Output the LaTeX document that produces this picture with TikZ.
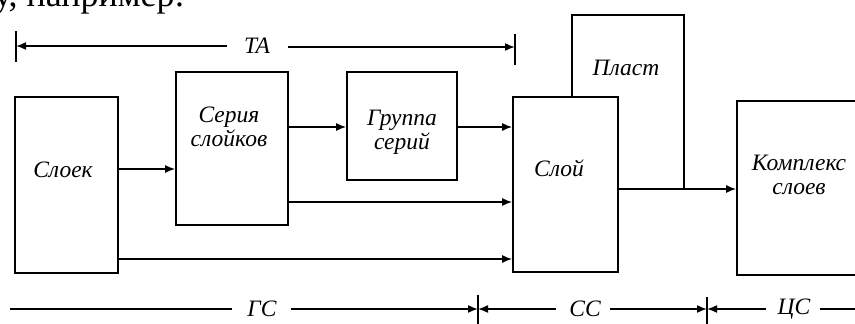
\documentclass[tikz,border=0pt]{standalone}
\usepackage{fontspec}
\setmainfont{Liberation Serif}
\usetikzlibrary{arrows.meta}
\begin{document}
\begin{tikzpicture}[x=1pt,y=-1pt,
  box/.style={draw,line width=1.6pt,inner sep=0pt},
  lbl/.style={font=\fontsize{23.5}{24}\selectfont\itshape,align=center,inner sep=0pt},
  ln/.style={line width=1.6pt},
  arr/.style={line width=1.6pt,-{Latex[length=10pt,width=8pt]}},
  barline/.style={line width=1.6pt}]
\useasboundingbox (0,0) rectangle (855,324);
\clip (0,0) rectangle (855,324);
% fragment of preceding text line
\node[font=\fontsize{36}{40}\selectfont,anchor=base west,inner sep=0pt] (frag) at (-6,6) {у, например:};
% boxes
\node[box,minimum width=103pt,minimum height=176pt] (sloek) at (66.5,185) {};
\node[box,minimum width=112pt,minimum height=153pt] (seria) at (232,148.5) {};
\node[box,minimum width=110pt,minimum height=108pt] (gruppa) at (402,126) {};
\node[box,minimum width=105pt,minimum height=175pt] (sloy) at (565.5,184.5) {};
\node[box,minimum width=143pt,minimum height=174pt] (kompl) at (808.5,188) {};
\node[inner sep=0pt,minimum width=112pt,minimum height=82pt] (plast) at (628,56) {};
% labels
\node[lbl] (tseria) at (229,127) {Серия\\слойков};
\node[lbl] (tsloek) at (63,170) {Слоек};
\node[lbl] (tgruppa) at (402,132) {Группа\\серий};
\node[lbl] (tsloy) at (559,168) {Слой};
\node[lbl] (tplast) at (626,68) {Пласт};
\node[lbl] (tkompl) at (799,175) {Комплекс\\слоев};
% level coordinates
\coordinate (y127) at (0,127);
\coordinate (y169) at (0,169);
\coordinate (y189) at (0,189);
\coordinate (y202) at (0,202);
\coordinate (y259) at (0,259);
% connectors
\draw[arr] (sloek.east |- y169) -- (seria.west |- y169);
\draw[arr] (seria.east |- y127) -- (gruppa.west |- y127);
\draw[arr] (gruppa.east |- y127) -- (sloy.west |- y127);
\draw[arr] (seria.east |- y202) -- (sloy.west |- y202);
\draw[arr] (sloek.east |- y259) -- (sloy.west |- y259);
\draw[arr] (sloy.east |- y189) -- (kompl.west |- y189);
\draw[ln] (plast.south west |- sloy.north) -- (plast.north west) -- (plast.north east) -- (plast.east |- y189);
% TA dimension line
\coordinate (taL) at (16,46);
\coordinate (taR) at (515,47);
\node[lbl] (tTA) at (257,46) {ТА};
\draw[barline] (taL) ++(0,-15) -- ++(0,31);
\draw[barline] (taR) ++(0,-13) -- ++(0,31);
\draw[arr] ([xshift=-17pt]tTA.west) -- (taL);
\draw[arr] ([xshift=18pt]tTA.east |- taR) -- (taR);
% bottom dimension line
\coordinate (gsL) at (10,309);
\coordinate (ccB) at (478,309);
\coordinate (csB) at (707,309);
\coordinate (csR) at (860,309);
\node[lbl] (tGS) at (262,309) {ГС};
\node[lbl] (tCC) at (585,309) {СС};
\node[lbl] (tCS) at (794,309) {ЦС};
\draw[barline] (ccB) ++(0,-14) -- ++(0,40);
\draw[barline] (csB) ++(0,-12) -- ++(0,40);
\draw[ln] (gsL) -- ([xshift=-15pt]tGS.west);
\draw[arr] ([xshift=14pt]tGS.east) -- (ccB);
\draw[arr] ([xshift=-13pt]tCC.west) -- (ccB);
\draw[arr] ([xshift=9pt]tCC.east) -- (csB);
\draw[arr] ([xshift=-11pt]tCS.west) -- (csB);
\draw[ln] ([xshift=9pt]tCS.east) -- (csR);
\end{tikzpicture}
\end{document}
